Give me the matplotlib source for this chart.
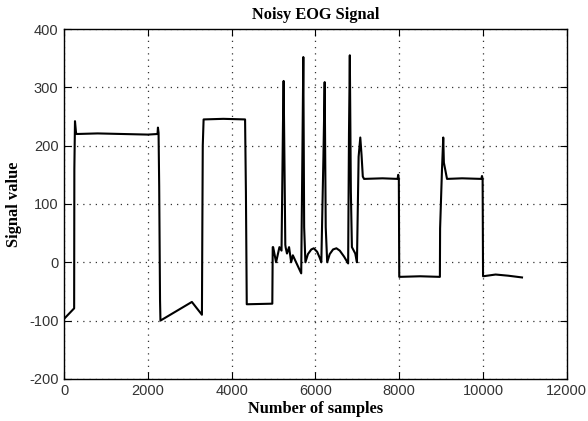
import matplotlib
matplotlib.use("Agg")
import matplotlib.pyplot as plt

plt.rcParams["font.family"] = ["Liberation Sans", "DejaVu Sans"]
plt.rcParams["axes.unicode_minus"] = False

# EOG trace (sample index, signal value)
samples = [0, 240, 245, 260, 285, 300, 800, 1400, 2000, 2230, 2240, 2255, 2270, 2290, 2300,
           3050, 3290, 3300, 3310, 3330, 3800, 4320, 4340, 4360, 4970,
           4980, 4990, 5060, 5140, 5190, 5225, 5240, 5280, 5290, 5320, 5370, 5420, 5460, 5660,
           5690, 5710, 5730, 5760, 5820, 5900, 5960, 6040, 6100, 6140,
           6190, 6220, 6245, 6280, 6340, 6420, 6500, 6580, 6680, 6780,
           6800, 6820, 6845, 6870, 6950, 6990, 7030, 7070, 7100, 7130, 7160, 7600, 7960, 7975, 7990,
           8000, 8010, 8500, 8970, 8975, 9020, 9050, 9065, 9140, 9500, 9960, 9975, 9990,
           10000, 10300, 10600, 10930]
values = [-97, -79, 160, 242, 222, 220, 221, 220, 219, 220, 231, 222, 130, -65, -100,
          -68, -90, 60, 200, 245, 246, 245, 120, -72, -71,
          26, 26, 0, 26, 20, 240, 311, 30, 25, 15, 26, 0, 12, -19,
          200, 352, 60, 0, 14, 22, 24, 18, 8, 0,
          180, 309, 60, 0, 14, 22, 24, 20, 10, -2,
          220, 355, 120, 26, 15, 0, 181, 214, 184, 147, 143, 144, 143, 150, 143,
          -25, -25, -24, -25, 58, 159, 214, 171, 143, 144, 143, 148, 143,
          -24, -21, -23, -26]

x_ticks = [0, 2000, 4000, 6000, 8000, 10000, 12000]
y_ticks = [-200, -100, 0, 100, 200, 300, 400]

fig = plt.figure(figsize=(5.88, 4.21), dpi=100)
ax = fig.add_axes([0.109, 0.1, 0.855, 0.831])

ax.plot(samples, values, color="black", lw=1.5)

ax.set_xlim(0, 12000)
ax.set_ylim(-200, 400)
ax.set_xticks(x_ticks)
ax.set_yticks(y_ticks)
ax.grid(True, color="#333333", linestyle=(0, (1, 4)), lw=0.9)
ax.tick_params(direction="in", top=True, right=True, length=5, labelsize=10.5,
               labelcolor="#333333", pad=4)
for sp in ax.spines.values():
    sp.set_linewidth(1.0)

serif = {"family": "Liberation Serif", "weight": "bold", "size": 11.8}
ax.set_title("Noisy EOG Signal", fontdict=serif, pad=7)
ax.set_xlabel("Number of samples", fontdict=serif, labelpad=2)
ax.set_ylabel("Signal value", fontdict=serif, labelpad=5)

fig.savefig("out.png", dpi=100, facecolor="white")
